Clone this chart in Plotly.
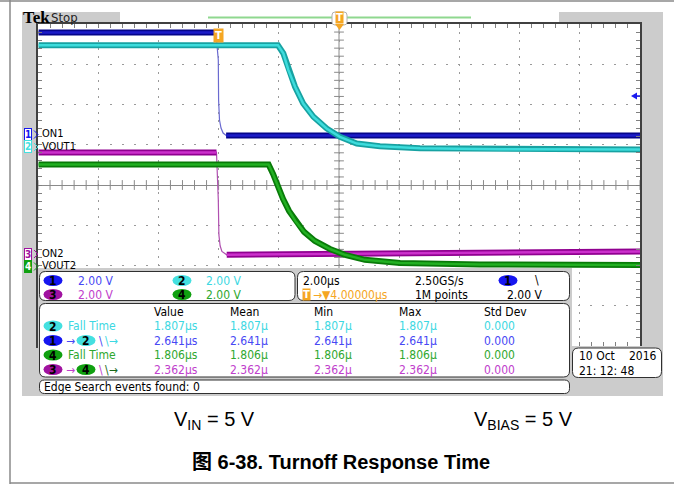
import numpy as np
import plotly.graph_objects as go

W, H = 674, 484

# ---------------- data ----------------
# time in microseconds relative to the trigger, voltage in volts
ch1_t = [-5.98, -0.09, -0.01, 0.0, 0.03, 0.08, 0.15, 0.25, 14.0]
ch1_v = [5.12, 5.12, 3.75, 1.76, 0.77, 0.37, 0.12, 0.0, 0.0]
ch2_t = [-5.98, 1.97, 2.15, 2.32, 2.54, 2.81, 3.15, 3.59, 4.03, 4.59, 5.36, 6.69, 9.35, 14.0]
ch2_v = [5.07, 5.07, 4.66, 3.83, 3.00, 2.17, 1.51, 0.93, 0.51, 0.18, 0.05, -0.05, -0.10, -0.12]
ch3_t = [-5.98, -0.07, -0.01, 0.01, 0.05, 0.11, 0.27, 3.70, 14.0]
ch3_v = [5.04, 5.04, 2.68, 0.94, 0.40, 0.12, -0.05, 0.0, 0.12]
ch4_t = [-5.98, 1.66, 1.81, 1.96, 2.14, 2.34, 2.57, 2.84, 3.20, 3.70, 4.20, 4.86, 6.03, 8.68, 14.0]
ch4_v = [5.04, 5.04, 4.57, 3.98, 3.33, 2.73, 2.19, 1.69, 1.24, 0.84, 0.55, 0.30, 0.15, 0.07, 0.05]

channel_names = ["ON1", "VOUT1", "ON2", "VOUT2"]
channel_scale = [2.0, 2.0, 2.0, 2.0]          # V/div
channel_pos = [1.23, 0.94, -1.71, -2.01]      # div (ground marker position)

meas_header = ["Value", "Mean", "Min", "Max", "Std Dev"]
meas_value = ["1.807\u00b5s", "2.641\u00b5s", "1.806\u00b5s", "2.362\u00b5s"]
meas_mean = ["1.807\u00b5", "2.641\u00b5", "1.806\u00b5", "2.362\u00b5"]
meas_min = ["1.807\u00b5", "2.641\u00b5", "1.806\u00b5", "2.362\u00b5"]
meas_max = ["1.807\u00b5", "2.641\u00b5", "1.806\u00b5", "2.362\u00b5"]
meas_std = ["0.000", "0.000", "0.000", "0.000"]

# ---------------- styling ----------------
TRACE_DARK = ["#05058a", "#17a2a2", "#900090", "#087a08"]
TRACE_LIGHT = ["#1c1cc8", "#3ddcdc", "#cc30cc", "#22b022"]
TXT = ["#4848f4", "#3cd8e2", "#c040cc", "#2ea82e"]
BADGE = ["#1616f0", "#44e0e0", "#a012a0", "#10a010"]
ORANGE = "#f5a623"
SF = "Liberation Sans Narrow, DejaVu Sans Condensed, Arial Narrow, sans-serif"
GRAY = "#cccccc"


def px(x):
    return x / W


def py(y):
    return 1 - y / H


shapes = []
annots = []


def rect(x0, y0, x1, y1, fill, line=None, lw=0, layer="above"):
    shapes.append(dict(type="rect", xref="paper", yref="paper", x0=px(x0), x1=px(x1),
                       y0=py(y1), y1=py(y0), fillcolor=fill,
                       line=dict(color=line or fill, width=lw), layer=layer))


def rrect(x0, y0, x1, y1, r, fill="white", line="#303030", lw=1, layer="above"):
    p = (f"M {px(x0+r)},{py(y0)} L {px(x1-r)},{py(y0)} Q {px(x1)},{py(y0)} {px(x1)},{py(y0+r)} "
         f"L {px(x1)},{py(y1-r)} Q {px(x1)},{py(y1)} {px(x1-r)},{py(y1)} "
         f"L {px(x0+r)},{py(y1)} Q {px(x0)},{py(y1)} {px(x0)},{py(y1-r)} "
         f"L {px(x0)},{py(y0+r)} Q {px(x0)},{py(y0)} {px(x0+r)},{py(y0)} Z")
    shapes.append(dict(type="path", xref="paper", yref="paper", path=p, fillcolor=fill,
                       line=dict(color=line, width=lw), layer=layer))


def line(x0, y0, x1, y1, color, w=1, layer="above"):
    shapes.append(dict(type="line", xref="paper", yref="paper", x0=px(x0), x1=px(x1),
                       y0=py(y0), y1=py(y1), line=dict(color=color, width=w), layer=layer))


def text(x, y, s, color="black", size=12, anchor="left", family=SF, bg=None):
    d = dict(xref="paper", yref="paper", x=px(x), y=py(y), text=s, showarrow=False,
             xanchor=anchor, yanchor="middle", font=dict(color=color, size=size, family=family))
    if bg:
        d["bgcolor"] = bg
    annots.append(d)


def badge(xc, yc, n, ci, w=19, h=11):
    shapes.append(dict(type="circle", xref="paper", yref="paper", x0=px(xc - w / 2), x1=px(xc + w / 2),
                       y0=py(yc + h / 2), y1=py(yc - h / 2), fillcolor=BADGE[ci],
                       line=dict(color=BADGE[ci], width=0), layer="above"))
    text(xc, yc + 0.5, f"<b>{n}</b>", "black", 12, "center")


# ---------------- background areas ----------------
rect(22, 12, 663, 396, GRAY, layer="below")
rect(38, 24, 640, 346, "white", layer="below")
rect(120, 12, 559, 24, "white", layer="below")
line(208, 17.5, 471, 17.5, "#8fd88f", 2, layer="below")
# page frame
line(0, 1, W, 1, "#8a8a8a", 1.5)
line(10, 0, 10, H, "#8a8a8a", 1.5)
line(10, 483, W, 483, "#8a8a8a", 1.5)

fig = go.Figure()

# centre line of the time axis
shapes.append(dict(type="line", xref="x", yref="y", x0=4, x1=4, y0=-4, y1=4,
                   line=dict(color="#8a8a8a", width=1), layer="below"))

# graticule tick marks on the centre lines
cx = np.arange(-6, 14.001, 0.4)
cy = np.arange(-4, 4.001, 0.2)
fig.add_trace(go.Scatter(x=cx, y=np.zeros_like(cx), mode="markers", hoverinfo="skip",
                         marker=dict(symbol="line-ns", size=7, line=dict(color="#8a8a8a", width=1))))
fig.add_trace(go.Scatter(x=np.full_like(cy, 4.0), y=cy, mode="markers", hoverinfo="skip",
                         marker=dict(symbol="line-ew", size=7, line=dict(color="#8a8a8a", width=1))))

# ---------------- waveforms ----------------
series = [(ch1_t, ch1_v), (ch2_t, ch2_v), (ch3_t, ch3_v), (ch4_t, ch4_v)]
for i, (t, v) in enumerate(series):
    t = np.asarray(t)
    y = channel_pos[i] + np.asarray(v) / channel_scale[i]
    if i in (0, 2):
        # the fast edge itself is a thin line, the flat parts are noisy bands
        fig.add_trace(go.Scatter(x=t, y=y, mode="lines", hoverinfo="skip",
                                 line=dict(color="#6a6ad0" if i == 0 else "#b050b0", width=1.2)))
        yb = np.where((t > -0.05) & (t < 0.2), np.nan, y)
    else:
        yb = y
    fig.add_trace(go.Scatter(x=t, y=yb, mode="lines", hoverinfo="skip", connectgaps=False,
                             line=dict(color=TRACE_DARK[i], width=6)))
    fig.add_trace(go.Scatter(x=t, y=yb, mode="lines", hoverinfo="skip", connectgaps=False,
                             line=dict(color=TRACE_LIGHT[i], width=2.5)))

# ---------------- markers on the graticule ----------------
# trigger point marker
annots.append(dict(xref="x", yref="paper", x=0, y=py(36), text="<b>T</b>", showarrow=False,
                   xanchor="center", yanchor="middle", bgcolor=ORANGE, borderpad=1,
                   font=dict(color="white", size=10, family="DejaVu Sans")))
# trigger position on the record bar
rrect(332, 12, 347, 25, 3, fill="white", line="#b0b0b0", lw=1)
shapes.append(dict(type="path", xref="paper", yref="paper",
                   path=f"M {px(335)},{py(24)} L {px(344)},{py(24)} L {px(339.5)},{py(30)} Z",
                   fillcolor=ORANGE, line=dict(width=0), layer="above"))
annots.append(dict(xref="paper", yref="paper", x=px(339.5), y=py(18), text="<b>T</b>", showarrow=False,
                   xanchor="center", yanchor="middle", bgcolor=ORANGE, borderpad=0,
                   font=dict(color="white", size=10, family="DejaVu Sans")))
# trigger level arrow
shapes.append(dict(type="path", xref="paper", yref="paper",
                   path=f"M {px(631)},{py(96)} L {px(637)},{py(92.5)} L {px(637)},{py(99.5)} Z",
                   fillcolor="#1a1af0", line=dict(width=0), layer="above"))
line(636, 96, 640, 96, "#1a1af0", 1.5)

# channel ground markers + labels
for i, (yc, nm) in enumerate(zip([134.5, 147, 254, 266.5], channel_names)):
    filled = i == 3
    annots.append(dict(xref="paper", yref="paper", x=px(28), y=py(yc), text=f"<b>{i+1}</b>",
                       showarrow=False, xanchor="center", yanchor="middle",
                       bgcolor=BADGE[i] if filled else "white", bordercolor=BADGE[i], borderwidth=1,
                       borderpad=0, font=dict(color="white" if filled else BADGE[i], size=10, family=SF)))
    shapes.append(dict(type="path", xref="paper", yref="paper",
                       path=f"M {px(34)},{py(yc-4)} L {px(38)},{py(yc)} L {px(34)},{py(yc+4)}",
                       line=dict(color=BADGE[i], width=1), layer="above"))
    text(40, yc - 1, nm, "black", 11, "left")

# ---------------- top bar text ----------------
text(21, 18, "<b>Tek</b>", "black", 17, "left", family="Liberation Serif, DejaVu Serif, serif")
text(49, 18, "Stop", "#222222", 13, "left")

# ---------------- readout panels ----------------
rect(38, 346, 663, 396, GRAY)
rect(38, 268, 572, 346, GRAY)
rrect(39.5, 271.5, 295, 300.5, 6)
rrect(297.5, 271.5, 569.5, 300.5, 6)
rrect(39.5, 303.5, 569.5, 377, 6)
rrect(39.5, 380, 569.5, 393.5, 5)
rrect(572.5, 348, 661.5, 377.5, 6)

# channel scale panel
badge(53, 280.5, 1, 0)
text(76, 280.5, "2.00 V", TXT[0])
badge(182, 280.5, 2, 1)
text(204, 280.5, "2.00 V", TXT[1])
badge(53, 294.5, 3, 2)
text(76, 294.5, "2.00 V", TXT[2])
badge(182, 294.5, 4, 3)
text(204, 294.5, "2.00 V", TXT[3])

# timebase panel
text(301, 280.5, "2.00\u00b5s", "black")
text(413, 280.5, "2.50GS/s", "black")
badge(508, 280.5, 1, 0)
text(533, 280, "\\", "black")
annots.append(dict(xref="paper", yref="paper", x=px(306), y=py(294.5), text="<b>T</b>", showarrow=False,
                   xanchor="center", yanchor="middle", bgcolor=ORANGE, borderpad=0,
                   font=dict(color="white", size=10, family="DejaVu Sans")))
text(311, 294.5, "\u2192\u25bc4.00000\u00b5s", ORANGE)
text(413, 294.5, "1M points", "black")
text(544, 294.5, "2.00 V", "black", anchor="right")

# measurement panel
cols_x = [152, 228, 312, 397, 482]
for cx_, h in zip(cols_x, meas_header):
    text(cx_, 311.5, h, "black")
rows_y = [326, 340.5, 355, 369.5]
row_ci = [1, 0, 3, 2]
for r, (yy, ci) in enumerate(zip(rows_y, row_ci)):
    vals = [meas_value[r], meas_mean[r], meas_min[r], meas_max[r], meas_std[r]]
    for cx_, s in zip(cols_x, vals):
        text(cx_, yy, s, TXT[ci])
# row labels
badge(53, 326, 2, 1)
text(66, 326, "Fall Time", TXT[1])
badge(53, 340.5, 1, 0)
text(64, 340.5, "\u2192", TXT[0])
badge(86, 340.5, 2, 1)
text(97, 340.5, "\\", TXT[0])
text(103, 340.5, "\\\u2192", TXT[1])
badge(53, 355, 4, 3)
text(66, 355, "Fall Time", TXT[3])
badge(53, 369.5, 3, 2)
text(64, 369.5, "\u2192", TXT[2])
badge(86, 369.5, 4, 3)
text(97, 369.5, "\\", TXT[2])
text(103, 369.5, "\\\u2192", "#1a6a1a")

# edge search panel
text(42, 386.5, "Edge Search events found: 0", "black")

# date box
text(577, 356, "10 Oct", "black")
text(659, 356, "2016", "black", anchor="right")
text(577, 371, "21: 12: 48", "black")

# ---------------- caption ----------------
CAP = "Arial, Liberation Sans, Noto Sans CJK SC, sans-serif"
text(214, 420, "V<sub>IN</sub> = 5 V", "black", 20, "center", family=CAP)
text(523, 420, "V<sub>BIAS</sub> = 5 V", "black", 20, "center", family=CAP)
text(341, 462, "<b>\u56fe 6-38. Turnoff Response Time</b>", "black", 20, "center", family=CAP)

fig.update_layout(
    width=W, height=H, margin=dict(l=0, r=0, t=0, b=0),
    paper_bgcolor="white", plot_bgcolor="rgba(0,0,0,0)", showlegend=False,
    shapes=shapes, annotations=annots,
    xaxis=dict(range=[-6, 14], domain=[38 / W, 640 / W], dtick=2, tick0=0,
               showgrid=True, gridcolor="#9a9a9a", griddash="2px,6px", gridwidth=1,
               zeroline=False, showline=True, linecolor="#404040", linewidth=1.5,
               mirror="allticks", ticks="inside", ticklen=4, tickcolor="#808080",
               minor=dict(dtick=0.4, ticks="inside", ticklen=4, tickcolor="#808080", showgrid=False),
               showticklabels=False, fixedrange=True),
    yaxis=dict(range=[-4, 4], domain=[1 - 346 / H, 1 - 24 / H], dtick=1, tick0=0,
               showgrid=True, gridcolor="#9a9a9a", griddash="2px,10px", gridwidth=1,
               zeroline=True, zerolinecolor="#8a8a8a", zerolinewidth=1,
               showline=True, linecolor="#404040", linewidth=1.5,
               mirror="allticks", ticks="inside", ticklen=4, tickcolor="#808080",
               minor=dict(dtick=0.2, ticks="inside", ticklen=4, tickcolor="#808080", showgrid=False),
               showticklabels=False, fixedrange=True),
)

fig.write_html("out.html", config={"displayModeBar": False},
               post_script="document.body.style.margin='0';document.body.style.overflow='hidden';")
